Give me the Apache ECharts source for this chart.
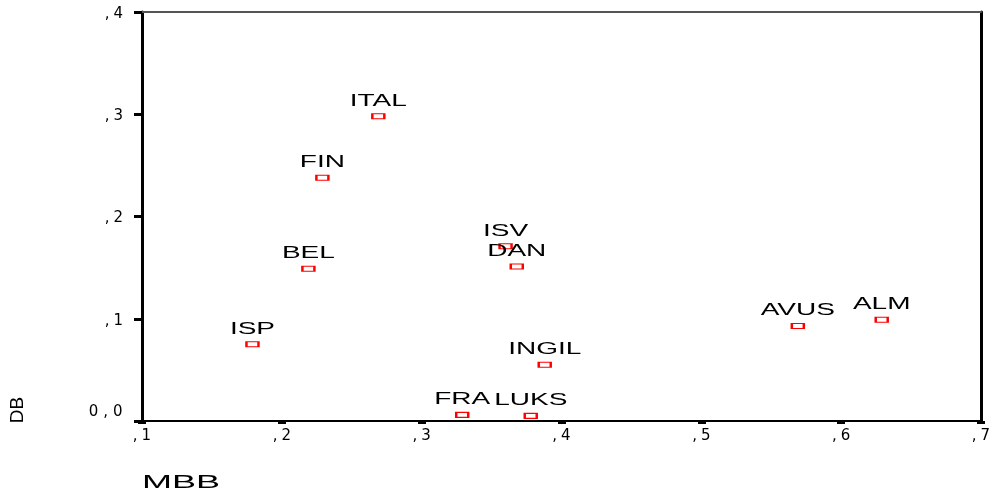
<!DOCTYPE html>
<html>
<head>
<meta charset="utf-8">
<script src="https://cdn.jsdelivr.net/npm/echarts@6/dist/echarts.min.js"></script>
<style>
html,body{margin:0;padding:0;background:#fff;}
#chart{width:996px;height:499px;}
</style>
</head>
<body>
<div id="chart"></div>
<script>
// Data
var countries = ['ITAL','FIN','BEL','ISP','ISV','DAN','INGIL','FRA','LUKS','AVUS','ALM'];
var mbbValues = [0.269, 0.229, 0.219, 0.179, 0.360, 0.368, 0.388, 0.329, 0.378, 0.569, 0.629];
var dbValues  = [0.298, 0.238, 0.149, 0.075, 0.171, 0.151, 0.055, 0.006, 0.005, 0.093, 0.099];
var xTickLabels = {'0.1':',1','0.2':',2','0.3':',3','0.4':',4','0.5':',5','0.6':',6','0.7':',7'};
var yTickLabels = {'0':'0,0','0.1':',1','0.2':',2','0.3':',3','0.4':',4'};
var xTitle = 'MBB';
var yTitle = 'DB';

var FONT = '"Liberation Sans", Arial, sans-serif';
var TICKFONT = '"DejaVu Sans", "Liberation Sans", sans-serif';
function spaced(s, style) {
  return s.split('').map(function (c) { return '{' + style + '|' + c + '}'; }).join('');
}
function keyOf(v) { return String(Math.round(v * 10) / 10); }

var points = mbbValues.map(function (x, i) { return [x, dbValues[i]]; });

var tickStyle = { fontSize: 15, fontFamily: TICKFONT, color: '#000' };
function rs(extra) { return Object.assign({}, tickStyle, extra); }

var chart = echarts.init(document.getElementById('chart'));
chart.setOption({
  backgroundColor: '#fff',
  animation: false,
  grid: { left: 142, right: 15, top: 12, bottom: 78 },
  xAxis: [{
    type: 'value', min: 0.1, max: 0.7, interval: 0.1, position: 'bottom',
    axisLine: { show: true, onZero: false, lineStyle: { color: '#000', width: 2 } },
    axisTick: { show: true, length: 3, lineStyle: { color: '#000', width: 8 } },
    splitLine: { show: false },
    axisLabel: {
      margin: 8, showMinLabel: true, showMaxLabel: true,
      fontSize: 15, fontFamily: TICKFONT, color: '#000',
      formatter: function (v) { return spaced(xTickLabels[keyOf(v)] || '', 'c'); },
      rich: { c: rs({ padding: [0, 2] }) }
    }
  }, {
    type: 'value', min: 0.1, max: 0.7, interval: 0.1, position: 'top',
    axisLine: { show: true, onZero: false, lineStyle: { color: '#555', width: 2 } },
    axisTick: { show: false }, axisLabel: { show: false }, splitLine: { show: false }
  }],
  yAxis: [{
    type: 'value', min: 0, max: 0.4, interval: 0.1, position: 'left',
    axisLine: { show: true, onZero: false, lineStyle: { color: '#000', width: 3 } },
    axisTick: { show: true, length: 8, lineStyle: { color: '#000', width: 3 } },
    splitLine: { show: false },
    axisLabel: {
      margin: 17, showMinLabel: true, showMaxLabel: true,
      fontSize: 15, fontFamily: TICKFONT, color: '#000',
      formatter: function (v) {
        var k = keyOf(v);
        return spaced(yTickLabels[k] || '', k === '0' ? 'z' : 'c');
      },
      rich: {
        c: rs({ padding: [4, 2, 0, 2] }),
        z: rs({ padding: [0, 2.5, 18, 2.5] })
      }
    }
  }, {
    type: 'value', min: 0, max: 0.4, interval: 0.1, position: 'right',
    axisLine: { show: true, onZero: false, lineStyle: { color: '#000', width: 3 } },
    axisTick: { show: false }, axisLabel: { show: false }, splitLine: { show: false }
  }],
  graphic: [{
    type: 'text', x: 142, y: 483, scaleX: 2.0,
    style: { text: xTitle, fontSize: 18, fontFamily: FONT, fill: '#000', align: 'left', verticalAlign: 'middle' }
  }, {
    type: 'text', x: 18, y: 410, rotation: Math.PI / 2,
    style: { text: yTitle, fontSize: 19, fontFamily: FONT, fill: '#000', align: 'center', verticalAlign: 'middle' }
  }],
  series: [{
    type: 'scatter',
    data: points,
    symbol: 'rect',
    symbolSize: [12, 5],
    itemStyle: { color: '#fff', borderColor: '#f00', borderWidth: 1.6, opacity: 1 },
    z: 3
  }, {
    type: 'custom',
    data: points,
    z: 4,
    renderItem: function (params, api) {
      var p = api.coord([api.value(0), api.value(1)]);
      return {
        type: 'text', x: p[0], y: p[1] - 15, scaleX: 1.75,
        style: {
          text: countries[params.dataIndex], fontSize: 16, fontFamily: FONT,
          fill: '#000', align: 'center', verticalAlign: 'middle'
        }
      };
    }
  }]
});
</script>
</body>
</html>
